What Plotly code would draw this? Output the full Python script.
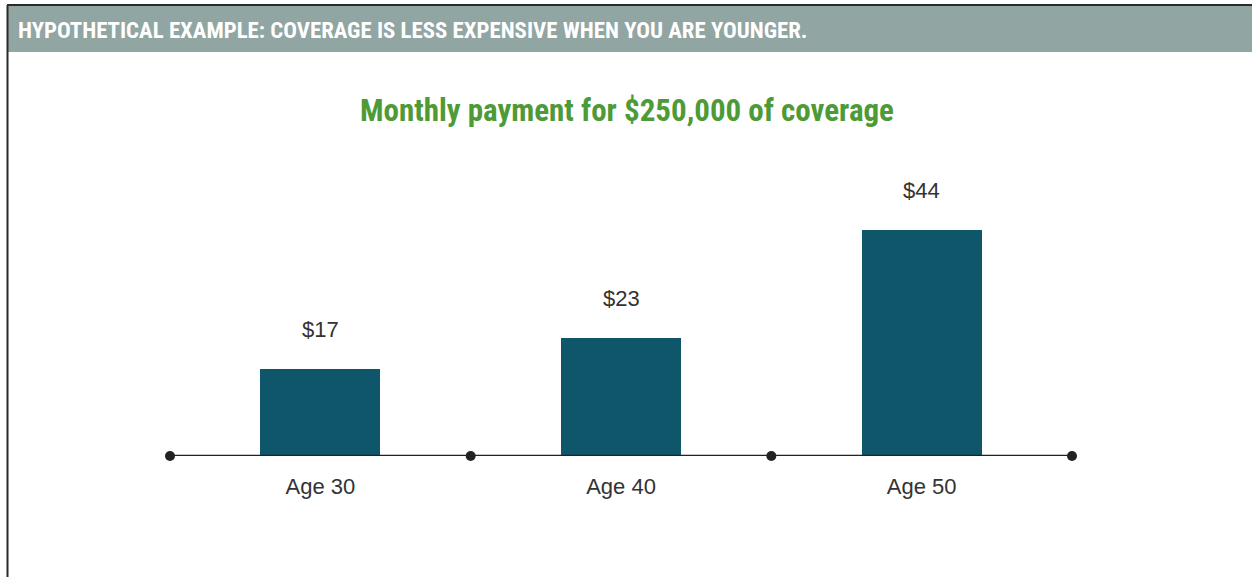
import plotly.graph_objects as go

# ---- data ----
categories = ["Age 30", "Age 40", "Age 50"]
payments = [17, 23, 44]
value_labels = ["$17", "$23", "$44"]
header_text = "HYPOTHETICAL EXAMPLE: COVERAGE IS LESS EXPENSIVE WHEN YOU ARE YOUNGER."
title_text = "Monthly payment for $250,000 of coverage"

W, H = 1252, 577
BAR_COLOR = "#0F566B"
TEXT_COLOR = "#333333"
GREEN = "#4E9A36"
HEADER_BG = "#91A5A2"

def px_x(p):
    return p / W

def px_y(p):
    return 1 - p / H

xs = list(range(len(categories)))
sep_x = [i - 0.5 for i in range(len(categories) + 1)]

fig = go.Figure()

# baseline with dots between categories
fig.add_trace(go.Scatter(
    x=sep_x, y=[0] * len(sep_x), mode="lines+markers",
    line=dict(color="#222222", width=2.6),
    marker=dict(color="#222222", size=10),
    hoverinfo="skip", showlegend=False, cliponaxis=False,
))

fig.add_trace(go.Bar(
    x=xs, y=payments, width=0.4, marker=dict(color=BAR_COLOR, line=dict(width=0)),
    showlegend=False, hoverinfo="skip",
))

annotations = []
for x, v, lab in zip(xs, payments, value_labels):
    annotations.append(dict(
        x=x, y=v, xref="x", yref="y", text=lab, showarrow=False,
        yanchor="middle", yshift=39,
        font=dict(family="Liberation Sans, Arial, sans-serif", size=22, color=TEXT_COLOR),
    ))

annotations.append(dict(
    x=px_x(627), y=px_y(111), xref="paper", yref="paper", text=title_text,
    showarrow=False, xanchor="center", yanchor="middle",
    font=dict(family="Liberation Sans Narrow, Roboto Condensed, Arial Narrow, sans-serif",
              size=31, color=GREEN, weight="bold"),
))
annotations.append(dict(
    x=px_x(16), y=px_y(30), xref="paper", yref="paper", text=header_text,
    showarrow=False, xanchor="left", yanchor="middle",
    font=dict(family="Liberation Sans Narrow, Roboto Condensed, Arial Narrow, sans-serif",
              size=22.8, color="white", weight="bold"),
))

shapes = [
    dict(type="rect", xref="paper", yref="paper", x0=px_x(7), x1=px_x(W), y0=px_y(52), y1=px_y(5),
         fillcolor=HEADER_BG, line=dict(width=0), layer="below"),
    dict(type="line", xref="paper", yref="paper", x0=px_x(7), x1=px_x(W), y0=px_y(5), y1=px_y(5),
         line=dict(color="#2a2a2a", width=2)),
    dict(type="line", xref="paper", yref="paper", x0=px_x(7.5), x1=px_x(7.5), y0=px_y(5), y1=0,
         line=dict(color="#2a2a2a", width=2)),
]

fig.update_layout(
    width=W, height=H,
    margin=dict(l=0, r=0, t=0, b=0),
    paper_bgcolor="white", plot_bgcolor="white",
    bargap=0,
    xaxis=dict(
        domain=[px_x(170), px_x(1072)], range=[-0.5, 2.5],
        tickmode="array", tickvals=xs, ticktext=categories,
        showgrid=False, zeroline=False, showline=False, ticks="",
        ticklabelstandoff=15,
        tickfont=dict(family="Liberation Sans, Arial, sans-serif", size=22, color=TEXT_COLOR),
    ),
    yaxis=dict(
        domain=[1 - 456 / H, 1 - 199 / H], range=[0, 50],
        visible=False, showgrid=False, zeroline=False,
    ),
    annotations=annotations,
    shapes=shapes,
)

fig.write_html(
    "out.html",
    config={"displayModeBar": False},
    post_script="document.body.style.margin='0';document.body.style.overflow='hidden';",
)
